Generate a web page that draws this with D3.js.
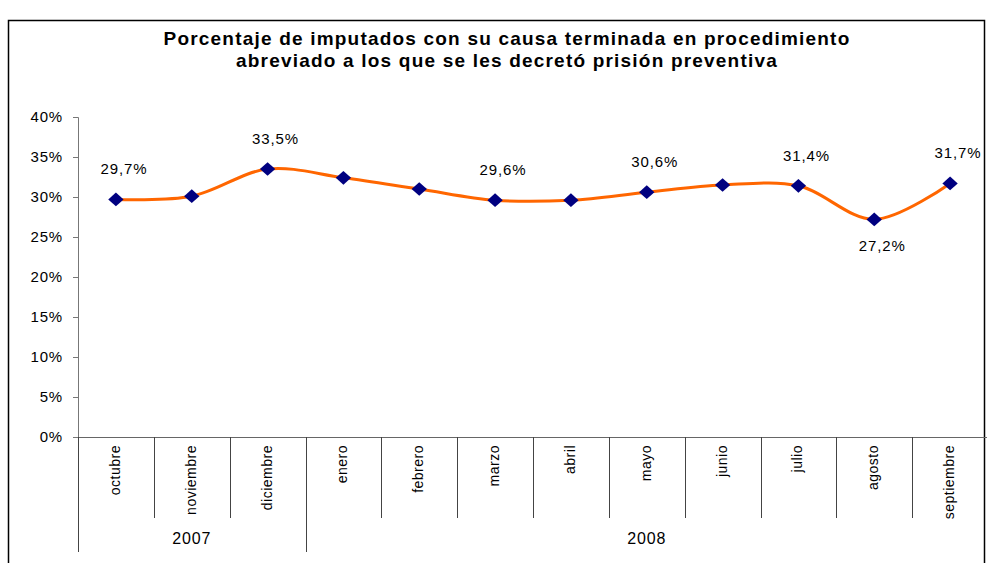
<!DOCTYPE html>
<html>
<head>
<meta charset="utf-8">
<script src="https://cdn.jsdelivr.net/npm/d3@7"></script>
<style>
  body { margin: 0; background: #fff; }
  svg { font-family: Arial, "Liberation Sans", sans-serif; }
</style>
</head>
<body>
<div id="chart"></div>
<script>
/* Prision preventiva line chart */

const months = ["octubre", "noviembre", "diciembre", "enero", "febrero", "marzo",
                "abril", "mayo", "junio", "julio", "agosto", "septiembre"];
const years = ["2007", "2007", "2007", "2008", "2008", "2008",
               "2008", "2008", "2008", "2008", "2008", "2008"];
const values = [29.7, 30.1, 33.5, 32.4, 31.0, 29.6, 29.6, 30.6, 31.5, 31.4, 27.2, 31.7];
const labelled = ["octubre", "diciembre", "marzo", "mayo", "julio", "agosto", "septiembre"];
const labelBelow = ["agosto"];
const yTicks = [0, 5, 10, 15, 20, 25, 30, 35, 40];
const title = ["Porcentaje de imputados con su causa terminada en procedimiento",
               "abreviado a los que se les decretó prisión preventiva"];

const width = 987,
      height = 563,
      margin = ({ top: 117, right: -1, bottom: 126, left: 78 });

const data = months.map((m, i) => ({ month: m, year: years[i], value: values[i] }));

let svg = d3.select("#chart")
    .append("svg")
    .attr("width", width)
    .attr("height", height);

// chart frame
svg.append("rect")
    .attr("x", 8.5).attr("y", 20.5)
    .attr("width", 976).attr("height", 600)
    .attr("fill", "none")
    .attr("stroke", "#000")
    .attr("stroke-width", 1.5);

svg.append("g")
    .selectAll("text")
    .data(title)
    .join("text")
    .attr("x", 507)
    .attr("y", (d, i) => 45 + i * 22)
    .attr("text-anchor", "middle")
    .attr("font-size", 19)
    .attr("font-weight", "bold")
    .attr("letter-spacing", 1.2)
    .text(d => d);

let x = d3.scaleBand()
    .domain(months)
    .range([margin.left, width - margin.right]);

let y = d3.scaleLinear()
    .domain([0, 40])
    .range([height - margin.bottom, margin.top]);

// y axis
let yAxis = svg.append("g")
    .attr("transform", `translate(${margin.left},0)`)
    .call(d3.axisLeft(y).tickValues(yTicks).tickSize(5).tickPadding(10)
        .tickFormat(d => d + "%"));
yAxis.select(".domain").attr("stroke", "#777");
yAxis.selectAll(".tick line").attr("stroke", "#777");
yAxis.selectAll("text").attr("font-size", 15).attr("fill", "#000")
    .attr("letter-spacing", 0.8)
    .attr("font-family", "Arial, 'Liberation Sans', sans-serif");

// x axis line
const y0 = y(0);
svg.append("line")
    .attr("x1", margin.left).attr("x2", width)
    .attr("y1", y0 + 0.5).attr("y2", y0 + 0.5)
    .attr("stroke", "#666");

// month separators
svg.append("g")
    .selectAll("line")
    .data(months.slice(1))
    .join("line")
    .attr("x1", d => Math.round(x(d)) + 0.5)
    .attr("x2", d => Math.round(x(d)) + 0.5)
    .attr("y1", y0)
    .attr("y2", d => (years[months.indexOf(d)] !== years[months.indexOf(d) - 1]) ? y0 + 115 : y0 + 81)
    .attr("stroke", "#444");

svg.append("line")
    .attr("x1", margin.left + 0.5).attr("x2", margin.left + 0.5)
    .attr("y1", y0).attr("y2", y0 + 115)
    .attr("stroke", "#444");

// month labels
svg.append("g")
    .selectAll("text")
    .data(months)
    .join("text")
    .attr("transform", d => `translate(${x(d) + x.bandwidth() / 2 + 4},${y0 + 8}) rotate(-90)`)
    .attr("text-anchor", "end")
    .attr("font-size", 14)
    .attr("letter-spacing", 0.5)
    .text(d => d);

// year labels
const yearGroups = d3.groups(data, d => d.year);
svg.append("g")
    .selectAll("text")
    .data(yearGroups)
    .join("text")
    .attr("x", ([, g]) => (x(g[0].month) + x(g[g.length - 1].month) + x.bandwidth()) / 2)
    .attr("y", y0 + 107)
    .attr("text-anchor", "middle")
    .attr("font-size", 16)
    .attr("letter-spacing", 0.8)
    .text(([k]) => k);

// line
let line = d3.line()
    .x(d => x(d.month) + x.bandwidth() / 2)
    .y(d => y(d.value))
    .curve(d3.curveCatmullRom.alpha(0.5));

svg.append("path")
    .datum(data)
    .attr("fill", "none")
    .attr("stroke", "#FF6600")
    .attr("stroke-width", 3)
    .attr("d", line);

// markers
svg.append("g")
    .selectAll("path")
    .data(data)
    .join("path")
    .attr("transform", d => `translate(${x(d.month) + x.bandwidth() / 2},${y(d.value)}) scale(1.12,1)`)
    .attr("d", d3.symbol(d3.symbolDiamond2, 120))
    .attr("fill", "#000080");

// data labels
svg.append("g")
    .selectAll("text")
    .data(data.filter(d => labelled.includes(d.month)))
    .join("text")
    .attr("x", d => x(d.month) + x.bandwidth() / 2 + 8)
    .attr("y", d => labelBelow.includes(d.month) ? y(d.value) + 32 : y(d.value) - 25)
    .attr("text-anchor", "middle")
    .attr("font-size", 15)
    .attr("letter-spacing", 0.9)
    .text(d => d.value.toFixed(1).replace(".", ",") + "%");
</script>
</body>
</html>
